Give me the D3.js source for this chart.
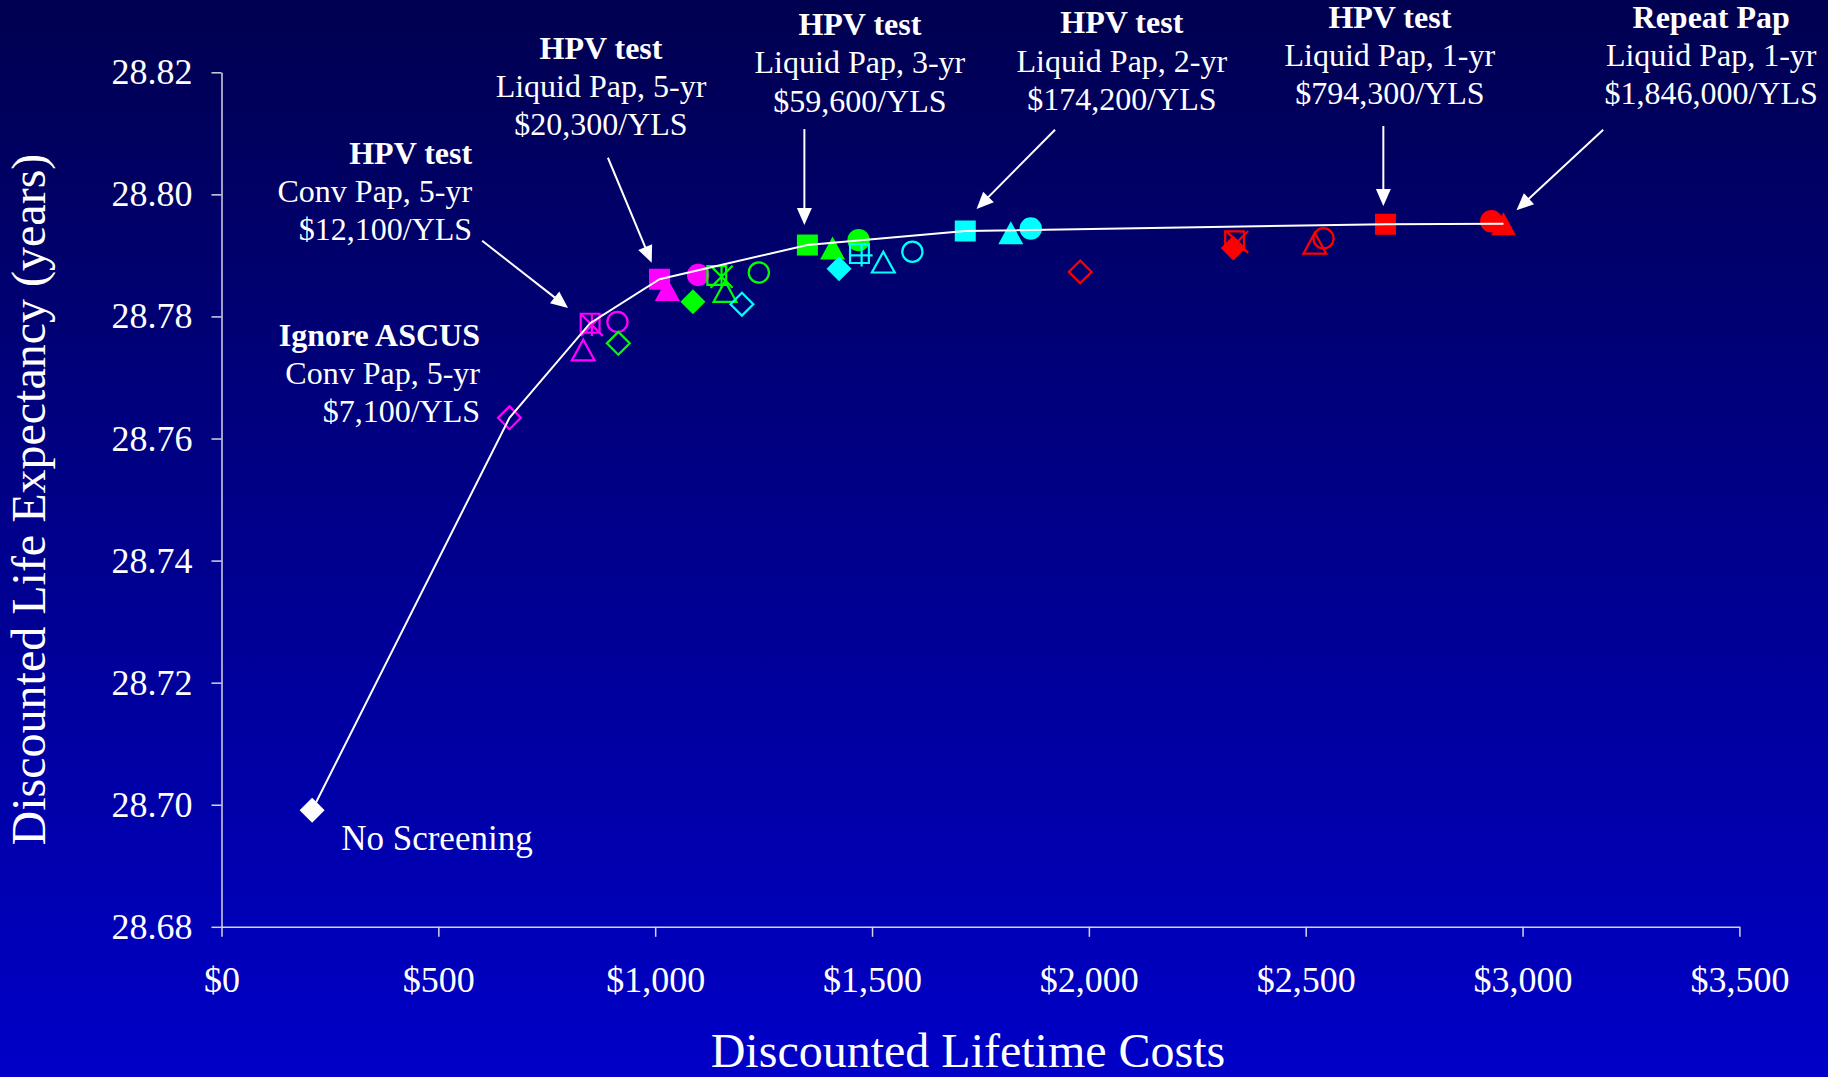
<!DOCTYPE html>
<html>
<head>
<meta charset="utf-8">
<script src="https://cdn.jsdelivr.net/npm/d3@7"></script>
<style>
  html, body { margin: 0; padding: 0; background: #000080; }
  svg { display: block; }
</style>
</head>
<body>
<svg id="chart" width="1828" height="1077"></svg>
<script>
// ---------------- DATA ----------------
// Discounted lifetime costs ($) per strategy
const costs = [
  209,                                        // no screening
  664, 850, 854, 834, 913, 1010, 1028, 1099,  // 5-yr
  915, 1087, 1142, 1153, 1161, 1239, 1351, 1409, 1469, // 3-yr
  1200, 1424, 1471, 1476, 1526, 1593, 1715, 1820, 1866, // 2-yr
  1980, 2333, 2336, 2342, 2521, 2541, 2684, 2928, 2956  // 1-yr
];
// Discounted life expectancy (years)
const lifeExpectancy = [
  28.6991,
  28.7634, 28.7789, 28.7786, 28.7745, 28.7791, 28.7861, 28.7844, 28.7868,
  28.7756, 28.7824, 28.7867, 28.7865, 28.7841, 28.7872, 28.7917, 28.7912, 28.7925,
  28.7820, 28.7878, 28.7903, 28.7900, 28.7889, 28.7906, 28.7940, 28.7937, 28.7944,
  28.7873, 28.7912, 28.7924, 28.7922, 28.7920, 28.7928, 28.7951, 28.7956, 28.7952
];
// Screening interval
const intervals = [
  "none",
  "5-yr","5-yr","5-yr","5-yr","5-yr","5-yr","5-yr","5-yr",
  "3-yr","3-yr","3-yr","3-yr","3-yr","3-yr","3-yr","3-yr","3-yr",
  "2-yr","2-yr","2-yr","2-yr","2-yr","2-yr","2-yr","2-yr","2-yr",
  "1-yr","1-yr","1-yr","1-yr","1-yr","1-yr","1-yr","1-yr","1-yr"
];
// Strategy marker shape
const shapes = [
  "diamond",
  "diamond","square","star","triangle","circle","square","triangle","circle",
  "diamond","diamond","square","star","triangle","circle","square","triangle","circle",
  "diamond","diamond","square","plus","triangle","circle","square","triangle","circle",
  "diamond","diamond","square","x","triangle","circle","square","circle","triangle"
];
// Pap type: liquid = filled, conv = open
const papTypes = [
  "liquid",
  "conv","conv","conv","conv","conv","liquid","liquid","liquid",
  "conv","liquid","conv","conv","conv","conv","liquid","liquid","liquid",
  "conv","liquid","conv","conv","conv","conv","liquid","liquid","liquid",
  "conv","liquid","conv","conv","conv","conv","liquid","liquid","liquid"
];
// Efficient frontier (indices into the arrays above)
const frontier = [0, 1, 2, 6, 15, 24, 33, 35];

const intervalColors = { "none": "#ffffff", "5-yr": "#ff00ff", "3-yr": "#00ff00", "2-yr": "#00ffff", "1-yr": "#ff0000" };

const xTicks = [0, 500, 1000, 1500, 2000, 2500, 3000, 3500];
const yTicks = [28.68, 28.70, 28.72, 28.74, 28.76, 28.78, 28.80, 28.82];
const xTitle = "Discounted Lifetime Costs";
const yTitle = "Discounted Life Expectancy (years)";

// Annotation text blocks (anchored in data units)
const labelLines = [
  ["Ignore ASCUS", "Conv Pap, 5-yr", "$7,100/YLS"],
  ["HPV test", "Conv Pap, 5-yr", "$12,100/YLS"],
  ["HPV test", "Liquid Pap, 5-yr", "$20,300/YLS"],
  ["HPV test", "Liquid Pap, 3-yr", "$59,600/YLS"],
  ["HPV test", "Liquid Pap, 2-yr", "$174,200/YLS"],
  ["HPV test", "Liquid Pap, 1-yr", "$794,300/YLS"],
  ["Repeat Pap", "Liquid Pap, 1-yr", "$1,846,000/YLS"]
];
const labelCost = [596, 578, 875, 1472, 2076, 2694, 3435];
const labelLE   = [28.7752, 28.8050, 28.8222, 28.8261, 28.8264, 28.8273, 28.8273];
const labelAnchor = ["end", "end", "middle", "middle", "middle", "middle", "middle"];
const noScreenLabel = { text: "No Screening", cost: 276, le: 28.6926 };

// Arrows (tail -> tip) in data units
const arrowFromCost = [601, 891, 1344, 1922, 2679, 3186];
const arrowFromLE   = [28.7924, 28.8060, 28.8107, 28.8106, 28.8112, 28.8106];
const arrowToCost   = [799, 992, 1344, 1741, 2679, 2986];
const arrowToLE     = [28.7814, 28.7888, 28.7950, 28.7976, 28.7981, 28.7974];

// ---------------- CHART ----------------
const W = 1828, H = 1077;
const svg = d3.select("#chart");
const FONT = "'Liberation Serif', 'Times New Roman', Times, serif";

const defs = svg.append("defs");
const grad = defs.append("linearGradient").attr("id", "bg").attr("x1", 0).attr("y1", 0).attr("x2", 0).attr("y2", 1);
grad.append("stop").attr("offset", "0%").attr("stop-color", "#000050");
grad.append("stop").attr("offset", "100%").attr("stop-color", "#0000c8");
svg.append("rect").attr("width", W).attr("height", H).attr("fill", "url(#bg)");

const x = d3.scaleLinear().domain([0, 3500]).range([221.5, 1739.4]);
const y = d3.scaleLinear().domain([28.68, 28.82]).range([926.8, 72.3]);

const axisColor = "#d4d4e4";

const gy = svg.append("g").attr("transform", `translate(${x(0)},0)`)
  .call(d3.axisLeft(y).tickValues(yTicks).tickFormat(d3.format(".2f"))
    .tickSize(10).tickSizeOuter(0).tickPadding(19));
const gx = svg.append("g").attr("transform", `translate(0,${y(28.68)})`)
  .call(d3.axisBottom(x).tickValues(xTicks).tickFormat(d => "$" + d3.format(",")(d))
    .tickSize(10).tickSizeOuter(0).tickPadding(30));
[gx, gy].forEach(g => {
  g.select(".domain").attr("stroke", axisColor).attr("stroke-width", 1.5);
  g.selectAll(".tick line").attr("stroke", axisColor).attr("stroke-width", 1.5);
  g.selectAll(".tick text").attr("fill", "#ffffff")
    .style("font-family", FONT).style("font-size", "36px");
});

// Axis titles
svg.append("text").attr("x", 968).attr("y", 1067).attr("text-anchor", "middle")
  .attr("fill", "#fff").style("font-family", FONT).style("font-size", "48px").text(xTitle);
svg.append("text").attr("transform", `translate(45,${(y.range()[0] + y.range()[1]) / 2}) rotate(-90)`)
  .attr("text-anchor", "middle").attr("fill", "#fff")
  .style("font-family", FONT).style("font-size", "48px").text(yTitle);

// Marker shapes
function markerPath(shape, filled) {
  const inset = filled ? 0 : 1.1;
  switch (shape) {
    case "square": { const s = 10.5 - inset; return `M${-s},${-s}H${s}V${s}H${-s}Z`; }
    case "diamond": { const d = 12.5 - inset; return `M0,${-d}L${d},0L0,${d}L${-d},0Z`; }
    case "triangle": { const w = 12.5 - inset, h = 11.5 - inset; return `M0,${-h}L${w},${h}L${-w},${h}Z`; }
    case "circle": { const r = 11.2 - inset; return `M${-r},0A${r},${r} 0 1,0 ${r},0A${r},${r} 0 1,0 ${-r},0Z`; }
    case "star": { const s = 11; return `M${-s},${-s}L${s},${s}M${-s},${s}L${s},${-s}M0,${-s}V${s}`; }
    case "plus": { const s = 11; return `M${-s},0H${s}M0,${-s}V${s}`; }
    case "x": { const s = 11; return `M${-s},${-s}L${s},${s}M${-s},${s}L${s},${-s}`; }
  }
}
const lineShapes = new Set(["star", "plus", "x"]);

const pts = costs.map((c, i) => ({ cost: c, le: lifeExpectancy[i], interval: intervals[i], shape: shapes[i], pap: papTypes[i] }));

svg.append("g").selectAll("path").data(pts).join("path")
  .attr("transform", d => `translate(${x(d.cost)},${y(d.le)})`)
  .attr("d", d => markerPath(d.shape, d.pap === "liquid" && !lineShapes.has(d.shape)))
  .attr("fill", d => (d.pap === "liquid" && !lineShapes.has(d.shape)) ? intervalColors[d.interval] : "none")
  .attr("stroke", d => (d.pap === "liquid" && !lineShapes.has(d.shape)) ? "none" : intervalColors[d.interval])
  .attr("stroke-width", 2.2);

// Efficient frontier line
const line = d3.line().x(i => x(costs[i])).y(i => y(lifeExpectancy[i]));
svg.append("path").attr("d", line(frontier)).attr("fill", "none")
  .attr("stroke", "#ffffff").attr("stroke-width", 2);

// Arrows
const arrowG = svg.append("g");
arrowFromCost.forEach((c, i) => {
  const x1 = x(c), y1 = y(arrowFromLE[i]), x2 = x(arrowToCost[i]), y2 = y(arrowToLE[i]);
  const dx = x2 - x1, dy = y2 - y1, len = Math.hypot(dx, dy);
  const ux = dx / len, uy = dy / len, headL = 17, headW = 7.5;
  const bx = x2 - ux * headL, by = y2 - uy * headL;
  arrowG.append("line").attr("x1", x1).attr("y1", y1).attr("x2", bx + ux * 2).attr("y2", by + uy * 2)
    .attr("stroke", "#fff").attr("stroke-width", 2);
  arrowG.append("path")
    .attr("d", `M${x2},${y2}L${bx - uy * headW},${by + ux * headW}L${bx + uy * headW},${by - ux * headW}Z`)
    .attr("fill", "#fff");
});

// Annotation labels
labelLines.forEach((lines, i) => {
  const t = svg.append("text").attr("x", x(labelCost[i])).attr("y", y(labelLE[i]))
    .attr("text-anchor", labelAnchor[i]).attr("fill", "#fff")
    .style("font-family", FONT).style("font-size", "32px");
  lines.forEach((s, j) => {
    t.append("tspan").attr("x", x(labelCost[i])).attr("dy", j === 0 ? 0 : 38.3)
      .style("font-weight", j === 0 ? "bold" : "normal").text(s);
  });
});
svg.append("text").attr("x", x(noScreenLabel.cost)).attr("y", y(noScreenLabel.le))
  .attr("fill", "#fff").style("font-family", FONT).style("font-size", "35px").text(noScreenLabel.text);
</script>
</body>
</html>
